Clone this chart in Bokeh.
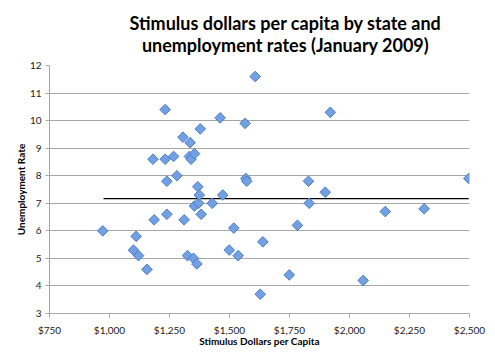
import math
from bokeh.plotting import figure
from bokeh.models import FixedTicker, NumeralTickFormatter, Range1d, ColumnDataSource
from bokeh.embed import file_html
from bokeh.resources import INLINE

# Stimulus dollars per capita (x) and unemployment rate (y), one point per state
stimulus = [972, 1100, 1111, 1121, 1156, 1181, 1186, 1232, 1232, 1239,
            1239, 1267, 1281, 1306, 1311, 1325, 1333, 1336, 1340, 1350,
            1354, 1354, 1364, 1368, 1371, 1374, 1378, 1382, 1428, 1461,
            1472, 1499, 1518, 1536, 1565, 1568, 1572, 1607, 1628, 1639,
            1749, 1783, 1829, 1832, 1899, 1920, 2057, 2149, 2311, 2497]
unemployment = [6.0, 5.3, 5.8, 5.1, 4.6, 8.6, 6.4, 10.4, 8.6, 7.8,
                6.6, 8.7, 8.0, 9.4, 6.4, 5.1, 8.7, 9.2, 8.6, 5.0,
                8.8, 6.9, 4.8, 7.6, 7.0, 7.3, 9.7, 6.6, 7.0, 10.1,
                7.3, 5.3, 6.1, 5.1, 9.9, 7.9, 7.8, 11.6, 3.7, 5.6,
                4.4, 6.2, 7.8, 7.0, 7.4, 10.3, 4.2, 6.7, 6.8, 7.9]

# Reference line (average unemployment)
line_x = [975, 2497]
line_y = [7.17, 7.17]

x_ticks = [750, 1000, 1250, 1500, 1750, 2000, 2250, 2500]
y_ticks = [3, 4, 5, 6, 7, 8, 9, 10, 11, 12]

title_text = "Stimulus dollars per capita by state and\nunemployment rates (January 2009)"

FONT = "Lato"

p = figure(width=490, height=355, output_backend="svg", toolbar_location=None,
           x_range=Range1d(750, 2500), y_range=Range1d(3, 12),
           min_border_left=49, min_border_right=21, min_border_top=65, min_border_bottom=42)

p.title.text = title_text
p.title.align = "left"
p.title.text_align = "center"
p.title.offset = 80
p.title.text_font = FONT
p.title.text_font_style = "bold"
p.title.text_font_size = "18px"
p.title.text_color = "#000000"
p.title.text_line_height = 1.0
p.title.standoff = 19

p.outline_line_color = None
p.background_fill_color = "white"

p.xgrid.visible = False
p.ygrid.ticker = FixedTicker(ticks=y_ticks)
p.ygrid.grid_line_color = "#a6a6a6"
p.ygrid.grid_line_width = 1

p.xaxis.ticker = FixedTicker(ticks=x_ticks)
p.xaxis.formatter = NumeralTickFormatter(format="$0,0")
p.yaxis.ticker = FixedTicker(ticks=y_ticks)

for ax in (p.xaxis, p.yaxis):
    ax.axis_line_color = "#a6a6a6"
    ax.major_tick_line_color = "#a6a6a6"
    ax.major_tick_out = 4
    ax.major_tick_in = 0
    ax.minor_tick_line_color = None
    ax.major_label_text_font = FONT
    ax.major_label_text_font_size = "10px"
    ax.major_label_text_color = "#222222"
    ax.axis_label_text_font = FONT
    ax.axis_label_text_font_size = "10px"
    ax.axis_label_text_font_style = "bold"
    ax.axis_label_text_color = "#000000"

p.xaxis.axis_label = "Stimulus Dollars per Capita"
p.yaxis.axis_label = "Unemployment Rate"
p.xaxis.major_label_standoff = 6
p.xaxis.axis_label_standoff = -4
p.yaxis.major_label_standoff = 4
p.yaxis.axis_label_standoff = 0

src = ColumnDataSource(data=dict(x=stimulus, y=unemployment))
p.line(line_x, line_y, line_color="black", line_width=1.3)
p.scatter("x", "y", source=src, marker="square", size=7.5, angle=math.pi / 4,
          fill_color="#72a0e2", line_color="#4a7ec6", line_width=1)

open("out.html", "w").write(file_html(p, INLINE))
